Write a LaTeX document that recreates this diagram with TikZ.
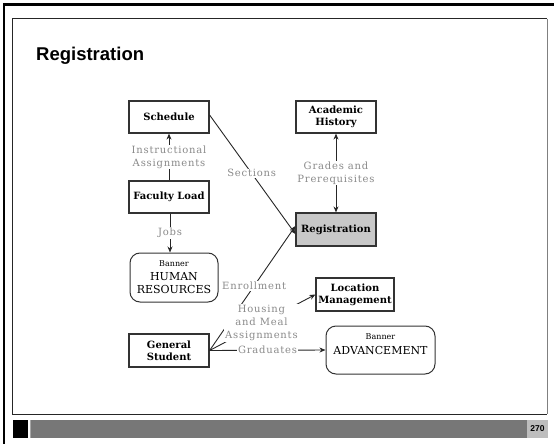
\documentclass[tikz,border=0pt]{standalone}
\usepackage{fontspec}
\usetikzlibrary{arrows.meta}
\newfontfamily\dvserif{DejaVu Serif}
\newfontfamily\dvserifsp[LetterSpace=8]{DejaVu Serif}
\newfontfamily\arialfont{Liberation Sans}
\definecolor{lblgray}{HTML}{8A8A8A}
\definecolor{boxline}{HTML}{333333}
\definecolor{regfill}{HTML}{C8C8C8}
\definecolor{barmid}{HTML}{777777}
\definecolor{barlight}{HTML}{BDBDBD}
\tikzset{
  procbox/.style={draw=boxline, line width=1.2pt, fill=white, minimum width=80pt, minimum height=32pt, inner sep=1pt, align=center, font=\dvserif\bfseries\fontsize{10}{12}\selectfont},
  extbox/.style={draw=boxline, line width=1pt, rounded corners=10pt, fill=white, align=center, inner sep=1pt, font=\dvserif\fontsize{11}{13.5}\selectfont},
  flowlbl/.style={fill=white, inner sep=1pt, align=center, text=lblgray, font=\dvserifsp\fontsize{10}{12.8}\selectfont},
  flow/.style={draw=black!85, line width=0.9pt, -{Stealth[length=6pt,width=5pt]}},
  flowboth/.style={draw=black!85, line width=0.9pt, {Stealth[length=6pt,width=5pt]}-{Stealth[length=6pt,width=5pt]}},
}
\begin{document}
\begin{tikzpicture}[x=1pt, y=-1pt]
\useasboundingbox (0,0) rectangle (554,444);
% outer frame
\draw[line width=2.6pt, black] (4,444) -- (4,4.5) -- (554,4.5);
% inner frame
\draw[line width=1pt, black!85] (12,414) -- (12,19) -- (547,19);
\draw[line width=1pt, black!85] (12,414) -- (547,414);
\draw[line width=1.2pt, black!50] (547.5,19) -- (547.5,414);
% bottom bar
\fill[black] (13,420) rectangle (28,438);
\fill[black!35] (29.5,420) rectangle (31,438);
\fill[barmid] (31,420) rectangle (527,438);
\fill[barlight] (527,420) rectangle (548,438);
\node[font=\arialfont\bfseries\fontsize{8.5}{10}\selectfont, inner sep=0pt] (pgno) at (537.5,429) {270};
% title
\node[anchor=base west, inner sep=0pt, font=\arialfont\bfseries\fontsize{18.5}{22}\selectfont] (title) at (36,61) {Registration};
% nodes
\node[procbox] (sched) at (169,117) {Schedule};
\node[procbox] (acad) at (336,117) {Academic\\History};
\node[procbox] (fac) at (169,197) {Faculty Load};
\node[procbox, fill=regfill, minimum height=33pt] (reg) at (336,229.5) {Registration};
\node[extbox, minimum width=88pt, minimum height=49pt] (hr) at (174,277.5) {{\fontsize{8}{9}\selectfont Banner}\\HUMAN\\RESOURCES};
\node[procbox, minimum width=78pt, minimum height=33pt] (loc) at (355,294.5) {Location\\Management};
\node[procbox, minimum height=33pt] (gen) at (169,350.5) {General\\Student};
\node[extbox, minimum width=109pt, minimum height=48pt] (adv) at (380.5,350) {{\fontsize{8}{10}\selectfont Banner}\\[1pt]ADVANCEMENT\\[-2pt]};
% connectors
\draw[flow] (fac.north) -- node[flowlbl] (lia) {Instructional\\Assignments} (sched.south);
\draw[flow] ([yshift=2pt]sched.east) -- node[flowlbl, pos=0.49] (lsec) {Sections} ([yshift=-4.5pt]reg.west);
\draw[flowboth] (reg.north) -- node[flowlbl] (lgr) {Grades and\\Prerequisites} (acad.south);
\draw[flow] ([xshift=1pt]fac.south) -- node[flowlbl] (ljobs) {Jobs} ([xshift=-4pt]hr.north);
\draw[flow] (gen.east) -- node[flowlbl, pos=0.52] (lenr) {Enrollment} ([yshift=3.5pt]reg.west);
\draw[flow] (gen.east) -- node[flowlbl, pos=0.49] (lhou) {Housing\\and Meal\\Assignments} (loc.west);
\draw[flow] (gen.east) -- node[flowlbl, pos=0.5] (lgrad) {Graduates} (adv.west);
\end{tikzpicture}
\end{document}
